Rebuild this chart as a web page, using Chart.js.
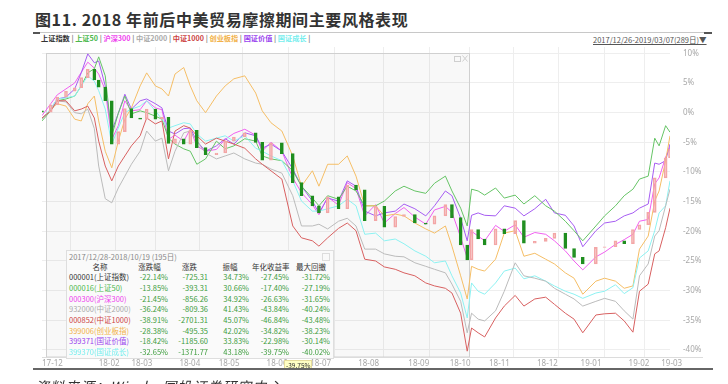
<!DOCTYPE html>
<html>
<head>
<meta charset="utf-8">
<script src="https://cdn.jsdelivr.net/npm/chart.js@4.4.1/dist/chart.umd.min.js"></script>
<style>
html,body{margin:0;padding:0;background:#fff;}
#wrap{position:relative;width:728px;height:384px;overflow:hidden;font-family:"Noto Sans CJK SC","Noto Sans",sans-serif;}
#c{position:absolute;left:0;top:0;}
.title{position:absolute;left:35px;top:9px;font-size:16px;line-height:20px;font-weight:bold;color:#333;letter-spacing:0.6px;white-space:nowrap;}
.rule{position:absolute;background:#c8c8c8;}
.cap{position:absolute;background:#555;}
.legend{position:absolute;left:41px;top:33px;font-size:7.2px;line-height:11px;font-weight:600;color:#888;white-space:nowrap;}
.range{position:absolute;left:593px;top:34px;font-size:7.5px;line-height:11px;color:#555;text-decoration:underline;white-space:nowrap;}
.src{position:absolute;left:35px;top:376px;font-size:14px;font-style:italic;color:#333;letter-spacing:1px;white-space:nowrap;}
.tag{position:absolute;left:284px;top:360px;font-size:6.5px;line-height:8px;padding:0 1px;background:#ffffc4;color:#333;border:1px solid #e6dc9a;}
.tbl{position:absolute;left:66px;top:250px;width:266px;height:107px;background:#fafafa;border:1px solid #dedede;font-size:7.5px;color:#333;}
.tbl .cap2{position:absolute;left:2px;top:0;line-height:11px;color:#888;}
.tbl .x{position:absolute;right:3px;top:2px;width:6px;height:6px;border:1px solid #ddd;}
.row{position:absolute;left:0;height:10.7px;line-height:10.7px;white-space:nowrap;}
.row span{position:absolute;top:0;}
</style>
</head>
<body>
<div id="wrap">
  <div class="title">图11. 2018 年前后中美贸易摩擦期间主要风格表现</div>
  <div class="rule" style="left:33px;top:32px;width:679px;height:1px;"></div>
  <div class="cap" style="left:33px;top:32px;width:7px;height:2px;"></div>
  <div class="cap" style="left:704px;top:32px;width:8px;height:2px;"></div>
  <div class="legend" id="legend"></div>
  <div class="range">2017/12/26-2019/03/07(289日)▼</div>
  <canvas id="c" width="728" height="384"></canvas>
  <div class="tbl" id="tbl"><div class="cap2">2017/12/28-2018/10/19 (195日)</div><div class="x"></div></div>
  <div class="tag">-39.75%</div>
  <div class="rule" style="left:33px;top:368px;width:680px;height:2px;background:#666;"></div>
  <div class="src">资料来源：Wind，国投证券研究中心</div>
</div>
<script>
// trading-day index of each sample (0 = 2017/12/26, 288 = 2019/03/07)
const days = [0,4,7,11,15,18,21,24,26,29,32,35,38,41,45,48,52,55,58,61,
  65,68,71,75,80,84,88,93,98,101,105,110,115,119,124,127,131,136,140,144,
  148,153,157,162,166,171,176,180,185,188,192,195,197,200,203,208,212,217,221,226,
  231,235,240,244,248,254,258,263,267,271,274,278,281,283,286,288];

// cumulative return, %
const shIndex = [0.0,1.3,2.6,3.6,4.2,5.9,7.3,5.5,4.3,2.0,-5.3,-3.2,0.7,-0.9,-1.1,0.6,-1.1,-0.8,-5.2,-4.4,
  -5.3,-3.0,-5.9,-7.1,-6.8,-4.8,-4.1,-3.4,-5.0,-8.0,-5.1,-6.9,-11.8,-14.0,-15.7,-16.9,-14.2,-16.2,-12.2,-13.0,
  -18.2,-15.8,-19.3,-17.5,-17.2,-18.6,-18.8,-17.4,-15.5,-17.7,-22.3,-24.8,-19.7,-21.3,-22.3,-19.6,-20.4,-18.2,-22.0,-21.7,
  -21.2,-20.3,-22.9,-24.4,-25.5,-22.7,-22.6,-21.6,-22.1,-19.7,-18.9,-16.8,-11.0,-11.0,-7.6,-6.2];
const sz50 = [-1.4,0.3,2.0,2.3,2.8,4.5,6.7,7.4,9.4,6.2,-3.9,-0.1,2.8,-0.2,0.3,0.0,-0.6,-1.1,-4.3,-5.3,
  -6.1,-6.5,-8.7,-7.8,-4.8,-6.1,-5.6,-4.4,-4.8,-7.3,-7.8,-8.1,-9.8,-12.4,-14.4,-15.7,-14.0,-14.6,-12.4,-13.2,
  -15.7,-15.7,-14.9,-13.2,-12.4,-13.2,-13.6,-11.9,-10.7,-13.2,-16.1,-19.1,-12.9,-13.2,-13.9,-12.7,-14.4,-13.9,-15.4,-14.0,
  -15.7,-16.6,-18.3,-19.9,-21.6,-19.1,-17.4,-15.7,-14.0,-12.9,-11.2,-10.7,-4.3,-5.6,-2.2,-3.3];
const hs300 = [-0.5,1.5,3.0,4.0,5.0,6.8,8.5,7.5,6.5,3.8,-4.5,-2.2,2.0,0.3,0.5,2.0,0.8,0.5,-4.5,-3.8,
  -4.8,-2.8,-5.6,-6.5,-6.2,-4.5,-3.5,-2.8,-3.8,-6.5,-5.0,-6.5,-11.0,-13.5,-15.5,-17.2,-14.2,-15.6,-11.8,-12.8,
  -17.4,-15.5,-18.6,-17.0,-16.0,-17.6,-18.8,-16.4,-15.8,-16.8,-21.0,-24.5,-20.0,-20.8,-21.6,-19.0,-20.0,-18.9,-21.0,-20.2,
  -20.5,-21.6,-23.3,-25.0,-26.5,-24.3,-23.5,-22.2,-21.4,-20.5,-18.3,-18.0,-12.0,-11.0,-7.5,-5.8];
const zz2000 = [-1.1,0.3,2.0,1.8,0.0,-0.2,0.6,-2.7,-9.0,-14.5,-15.2,-12.7,-10.7,-8.7,-6.5,-3.1,-4.8,-4.3,-9.8,-6.5,
  -3.4,-3.1,-4.8,-6.8,-7.8,-7.3,-6.8,-7.8,-8.5,-8.7,-9.5,-10.2,-14.0,-19.1,-19.1,-18.8,-19.6,-18.3,-17.8,-19.1,
  -23.0,-23.0,-23.8,-24.2,-24.3,-25.3,-25.9,-26.4,-27.0,-28.9,-31.8,-37.1,-33.8,-34.8,-35.1,-33.4,-30.1,-25.3,-27.5,-27.9,
  -28.4,-29.6,-30.6,-31.4,-32.6,-31.8,-31.3,-31.8,-33.4,-34.8,-27.5,-25.5,-20.8,-19.9,-15.7,-12.9];
const zz1000 = [-0.9,0.3,2.0,2.0,0.3,0.6,1.1,-0.9,-4.8,-9.0,-11.5,-9.0,-7.3,-5.6,-3.9,-0.9,-1.9,-1.4,-7.8,-3.1,
  -2.2,-2.6,-3.9,-5.3,-4.3,-4.8,-5.3,-6.0,-7.8,-8.7,-9.8,-11.2,-19.1,-21.1,-21.6,-22.5,-21.1,-19.5,-18.6,-19.9,
  -24.7,-25.0,-26.0,-26.4,-27.0,-27.5,-28.7,-29.2,-29.6,-30.4,-33.8,-40.2,-36.3,-37.1,-37.8,-34.6,-32.6,-30.8,-32.6,-31.4,
  -31.1,-32.3,-33.8,-34.8,-37.1,-34.1,-33.9,-33.8,-35.1,-37.0,-30.1,-28.9,-23.8,-23.3,-19.4,-16.1];
const cyb = [-1.1,0.6,1.5,1.1,-1.1,-1.4,1.5,2.8,-1.4,-6.5,-9.3,-4.8,-1.1,0.8,4.5,6.7,4.5,4.0,2.8,6.5,
  7.6,4.5,2.0,0.0,2.8,4.5,5.7,6.2,3.3,0.3,-1.7,-3.1,-7.3,-12.4,-9.8,-12.4,-8.7,-8.7,-7.3,-10.7,
  -15.7,-15.7,-17.4,-17.1,-17.4,-18.6,-19.6,-20.3,-19.1,-22.5,-27.5,-31.4,-25.9,-26.4,-26.7,-24.7,-20.3,-19.9,-24.2,-23.7,
  -24.7,-25.5,-27.0,-27.9,-30.6,-28.4,-27.9,-28.4,-29.6,-29.2,-23.0,-20.8,-14.9,-13.2,-8.1,-3.9];
const gzValue = [-1.0,0.6,2.3,2.6,4.0,6.7,9.9,8.4,8.7,4.5,-3.1,-0.1,3.1,0.6,2.0,2.3,1.5,0.8,-3.1,-3.6,
  -2.7,-2.6,-4.8,-6.5,-5.6,-4.4,-5.3,-3.4,-3.9,-6.0,-5.3,-6.5,-9.5,-12.4,-14.9,-16.9,-14.4,-14.9,-11.5,-12.4,
  -16.6,-17.4,-16.9,-16.6,-15.4,-16.2,-17.4,-15.7,-13.2,-14.0,-17.8,-21.6,-17.3,-16.9,-17.3,-17.4,-15.7,-16.1,-17.4,-16.2,
  -14.6,-16.9,-17.3,-19.1,-22.6,-19.9,-18.6,-18.3,-17.4,-16.9,-16.1,-15.4,-8.5,-8.7,-8.1,-5.3];
const gzGrowth = [-1.1,0.6,2.3,2.5,2.8,4.5,6.2,5.3,3.7,0.6,-5.3,-2.6,0.0,0.6,1.1,2.0,0.3,-1.1,-2.6,-2.2,
  -1.7,-1.9,-3.6,-4.8,-4.3,-3.9,-4.8,-3.9,-6.0,-6.5,-7.3,-8.1,-11.5,-14.9,-16.6,-16.6,-16.2,-15.7,-14.6,-15.7,
  -20.5,-20.3,-21.6,-21.3,-22.1,-23.3,-24.2,-25.3,-25.0,-27.5,-30.4,-34.6,-28.7,-30.1,-30.6,-28.7,-26.7,-26.2,-28.0,-27.5,
  -28.4,-29.2,-30.1,-30.6,-31.3,-30.4,-30.1,-29.0,-30.5,-29.5,-24.5,-23.3,-19.9,-16.9,-15.7,-11.5];

const monthDays = [0,26,41,63,81,103,123,145,168,187,205,227,247,269,284];
const monthLabels = ['17-12','18-02','18-03','18-04','18-05','18-06','18-07','18-08','18-09','18-10','18-11','18-12','19-01','19-02','19-03'];
const yTicks = [-40,-35,-30,-25,-20,-15,-10,-5,0,5,10];

const names = ['上证指数','上证50','沪深300','中证2000','中证1000','创业板指','国证价值','国证成长'];
const colors = ['#333333','#4cb84c','#ee44ee','#aaaaaa','#cc4444','#f2b24a','#9a44ee','#77eeee'];

// selection statistics table
const codes = ['000001','000016','000300','932000','000852','399006','399371','399370'];
const chgPct = ['-22.14%','-13.85%','-21.45%','-36.24%','-38.91%','-28.38%','-18.42%','-32.65%'];
const chg = ['-725.31','-393.31','-856.26','-809.36','-2701.31','-495.35','-1185.60','-1371.77'];
const amp = ['34.73%','30.66%','34.92%','41.43%','45.07%','42.02%','33.83%','43.18%'];
const annRet = ['-27.45%','-17.40%','-26.63%','-43.84%','-46.84%','-34.82%','-22.98%','-39.75%'];
const maxDD = ['-31.72%','-27.19%','-31.65%','-40.24%','-43.48%','-38.23%','-30.14%','-40.02%'];
const selStart = 2, selEnd = 196;

// legend
document.getElementById('legend').innerHTML = names.map((n, i) =>
  '<span style="color:' + colors[i] + '">' + n + '</span>').join(' | ') + ' |';

// table
const tbl = document.getElementById('tbl');
const cols = [[2, 64, 'left'], [64, 101, 'right'], [104, 141, 'right'], [144, 182, 'right'], [185, 222, 'right'], [225, 263, 'right']];
function addRow(top, cells, nameColor, valColor, header) {
  const r = document.createElement('div');
  r.className = 'row';
  r.style.top = top + 'px';
  r.style.width = '266px';
  cells.forEach((t, j) => {
    const s = document.createElement('span');
    s.textContent = t;
    s.style.left = cols[j][0] + 'px';
    s.style.width = (cols[j][1] - cols[j][0]) + 'px';
    s.style.textAlign = header ? 'center' : cols[j][2];
    s.style.color = header ? '#333' : (j === 0 ? nameColor : valColor);
    r.appendChild(s);
  });
  tbl.appendChild(r);
}
addRow(10.5, ['名称', '涨跌幅', '涨跌', '振幅', '年化收益率', '最大回撤'], '#333', '#333', true);
codes.forEach((c, i) => {
  addRow(21.2 + i * 10.7, [c + '(' + names[i] + ')', chgPct[i], chg[i], amp[i], annRet[i], maxDD[i]],
    colors[i], '#3c9c3c', false);
});

const pts = arr => days.map((d, i) => ({x: d, y: arr[i]}));
const candles = days.map((d, i) => ({x: d, y: [i ? shIndex[i - 1] : shIndex[0] + 0.3, shIndex[i]]}));
const isUp = c => c.raw && c.raw.y[1] >= c.raw.y[0];

const lineSet = (label, arr, color) => ({
  type: 'line', label, data: pts(arr), borderColor: color, backgroundColor: color,
  borderWidth: 1, pointRadius: 0, tension: 0, order: 2
});

const selBox = {
  id: 'selBox',
  beforeDatasetsDraw(chart) {
    const {ctx, scales: {x, y}, chartArea} = chart;
    const l = Math.round(x.getPixelForValue(selStart)) + 0.5;
    const r = Math.round(x.getPixelForValue(selEnd)) + 0.5;
    const t = Math.round(y.getPixelForValue(10)) + 0.5;
    const b = chartArea.bottom;
    ctx.save();
    ctx.fillStyle = 'rgba(0,0,0,0.028)';
    ctx.fillRect(l, t, r - l, b - t);
    ctx.strokeStyle = '#d0d0d0';
    ctx.lineWidth = 1;
    ctx.strokeRect(l, t, r - l, b - t);
    ctx.strokeStyle = '#cfcfcf';
    ctx.strokeRect(r - 15, t + 3, 6, 5);
    ctx.beginPath();
    ctx.moveTo(r - 7, t + 2); ctx.lineTo(r - 2, t + 8);
    ctx.moveTo(r - 2, t + 2); ctx.lineTo(r - 7, t + 8);
    ctx.stroke();
    ctx.restore();
  },
  afterDraw(chart) {
    const {ctx, chartArea} = chart;
    ctx.save();
    ctx.strokeStyle = '#dcdcdc';
    ctx.beginPath();
    ctx.moveTo(chartArea.left, chartArea.bottom + 0.5);
    ctx.lineTo(703, chartArea.bottom + 0.5);
    ctx.stroke();
    ctx.restore();
  }
};

new Chart(document.getElementById('c'), {
  type: 'line',
  data: {
    datasets: [
      {
        type: 'bar', label: names[0], data: candles, barThickness: 3, grouped: false, order: 1,
        backgroundColor: c => isUp(c) ? 'rgba(255,255,255,0)' : '#1f8e1f',
        borderColor: c => isUp(c) ? '#f3a6a6' : '#1f8e1f',
        borderWidth: 1, borderSkipped: false
      },
      lineSet(names[4], zz1000, '#d86060'),
      lineSet(names[3], zz2000, '#bbbbbb'),
      lineSet(names[7], gzGrowth, '#8cf2f2'),
      lineSet(names[5], cyb, '#f5be66'),
      lineSet(names[1], sz50, '#66c466'),
      lineSet(names[6], gzValue, '#a65cf2'),
      lineSet(names[2], hs300, '#f060f0')
    ]
  },
  options: {
    responsive: false,
    animation: false,
    events: [],
    layout: {padding: {left: 42, top: 47, right: 0, bottom: 0}},
    plugins: {legend: {display: false}, tooltip: {enabled: false}, title: {display: false}},
    scales: {
      x: {
        type: 'linear', min: 0, max: 288, offset: false,
        afterFit: s => { s.height = 27; },
        afterBuildTicks: s => { s.ticks = monthDays.map(v => ({value: v})); },
        grid: {color: '#eeeeee', drawTicks: false},
        border: {display: false},
        ticks: {
          autoSkip: false, maxRotation: 0, align: 'start', padding: 2,
          color: '#a8a8a8', font: {size: 8, family: '"Noto Sans", sans-serif'},
          callback: (v, i) => monthLabels[i]
        }
      },
      y: {
        type: 'linear', position: 'right', min: -41.18, max: 11.06,
        afterFit: s => { s.width = 58; },
        afterBuildTicks: s => { s.ticks = yTicks.map(v => ({value: v})); },
        grid: {color: '#eeeeee', drawTicks: false},
        border: {display: false},
        ticks: {
          padding: 13, color: '#a8a8a8', font: {size: 8, family: '"Noto Sans", sans-serif'},
          callback: v => v + '%'
        }
      }
    }
  },
  plugins: [selBox]
});
</script>
</body>
</html>
